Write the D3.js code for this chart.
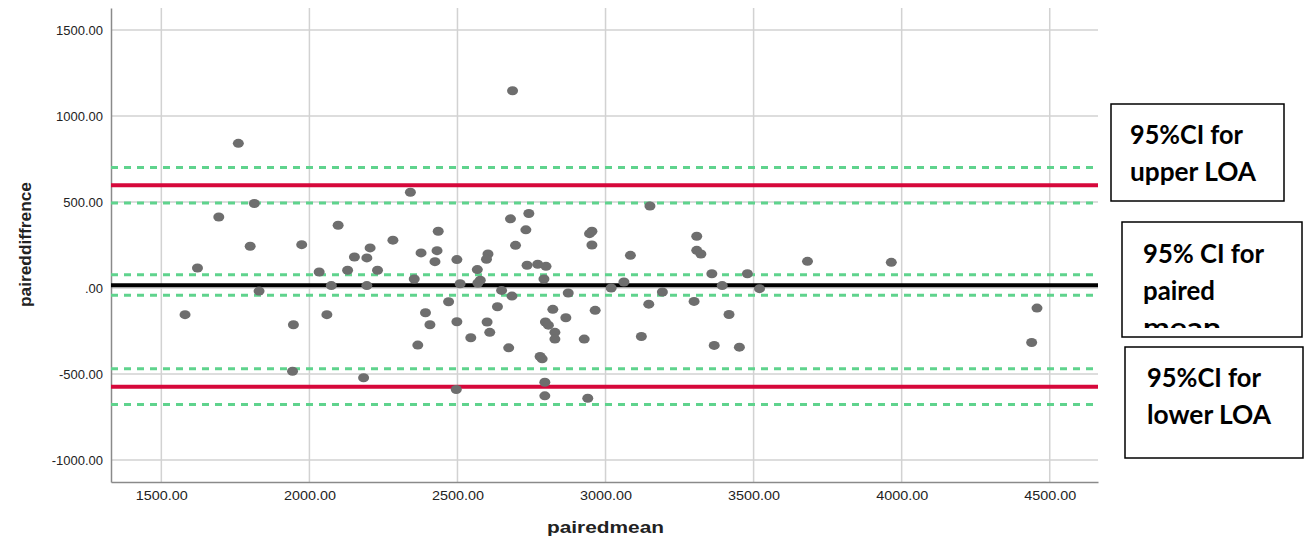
<!DOCTYPE html>
<html lang="en">
<head>
<meta charset="UTF-8">
<title>Bland-Altman plot</title>
<script src="https://d3js.org/d3.v7.min.js"></script>
<style>
  body { margin: 0; background: #fff; }
  svg { display: block; }
</style>
</head>
<body>
<svg id="chart" width="1304" height="540"></svg>
<script>
// paired mean (x) and paired difference (y), one entry per subject
const pairedMean = [
  1760, 1814, 1694, 1800, 1974, 1622, 1830, 1580, 1946, 1943,
  2097, 2033, 2074, 2059, 2129, 2152, 2194, 2205, 2194, 2230,
  2183, 2282, 2341, 2354, 2377, 2435, 2431, 2424, 2392, 2407,
  2366, 2470, 2686, 2498, 2509, 2498, 2545, 2496, 2679, 2741,
  2731, 2696, 2603, 2598, 2567, 2577, 2569, 2649, 2684, 2635,
  2600, 2609, 2673, 2735, 2771, 2799, 2792, 2822, 2797, 2807,
  2829, 2829, 2779, 2786, 2795, 2795, 2874, 2866, 2928, 2940,
  2965, 2946, 2954, 2954, 3019, 3062, 3084, 3150, 3146, 3121,
  3192, 3308, 3308, 3322, 3299, 3359, 3394, 3417, 3367, 3452,
  3479, 3520, 3682, 3965, 4457, 4439
];
const pairedDiff = [
  841, 491, 413, 243, 252, 116, -18, -155, -214, -484,
  365, 93, 14, -155, 103, 180, 175, 233, 14, 103,
  -522, 278, 557, 52, 204, 330, 217, 153, -144, -214,
  -332, -80, 1147, 165, 25, -196, -289, -590, 402, 433,
  338, 248, 198, 167, 107, 45, 29, -14, -47, -109,
  -198, -258, -348, 132, 138, 126, 52, -124, -198, -216,
  -258, -297, -398, -412, -548, -627, -29, -173, -297, -641,
  -130, 316, 330, 250, 0, 35, 190, 477, -94, -282,
  -23, 301, 219, 198, -78, 83, 14, -154, -334, -344,
  83, -4, 155, 149, -117, -317
];

const xTicks = [1500, 2000, 2500, 3000, 3500, 4000, 4500];
const yTicks = [-1000, -500, 0, 500, 1000, 1500];

// reference lines
const meanDiff = 16;
const meanCI = [77, -42];
const upperLOA = 597;
const upperCI = [701, 494];
const lowerLOA = -574;
const lowerCI = [-469, -678];

const boxLabels = [
  ['95%CI for', 'upper LOA'],
  ['95% CI for', 'paired', 'mean'],
  ['95%CI for', 'lower LOA']
];

const svg = d3.select('#chart');
const plot = { left: 111, right: 1098, top: 8, bottom: 482 };

const x = d3.scaleLinear().domain([1330, 4663]).range([plot.left, plot.right]);
const y = d3.scaleLinear().domain([-1128, 1628]).range([plot.bottom, plot.top]);

const fmt = d => d === 0 ? '.00' : d.toFixed(2);
const sans = '"Liberation Sans", Arial, sans-serif';

// grid
svg.append('g')
  .selectAll('line')
  .data(xTicks)
  .join('line')
  .attr('x1', d => x(d)).attr('x2', d => x(d))
  .attr('y1', plot.top).attr('y2', plot.bottom)
  .attr('stroke', '#d2d2d2').attr('stroke-width', 1.5);

svg.append('g')
  .selectAll('line')
  .data(yTicks)
  .join('line')
  .attr('x1', plot.left).attr('x2', plot.right)
  .attr('y1', d => y(d)).attr('y2', d => y(d))
  .attr('stroke', '#d2d2d2').attr('stroke-width', 1.5);

// axes
const xAxis = svg.append('g')
  .attr('transform', `translate(0,${plot.bottom})`)
  .call(d3.axisBottom(x).tickValues(xTicks).tickFormat(fmt).tickSize(0).tickPadding(9));
const yAxis = svg.append('g')
  .attr('transform', `translate(${plot.left},0)`)
  .call(d3.axisLeft(y).tickValues(yTicks).tickFormat(fmt).tickSize(0).tickPadding(8));

[xAxis, yAxis].forEach(a => {
  a.select('.domain').attr('stroke', '#8a8a8a').attr('stroke-width', 1.5);
  a.selectAll('text')
    .attr('font-family', sans)
    .attr('font-size', 13)
    .attr('fill', '#222');
});
// x tick labels are a little wider in the original
xAxis.selectAll('text')
  .attr('textLength', 52)
  .attr('lengthAdjust', 'spacingAndGlyphs');

// reference lines
const refLines = [
  { v: upperCI[0], color: '#5fd38d', w: 3, dash: '7,6' },
  { v: upperCI[1], color: '#5fd38d', w: 3, dash: '7,6' },
  { v: meanCI[0], color: '#5fd38d', w: 3, dash: '7,6' },
  { v: meanCI[1], color: '#5fd38d', w: 3, dash: '7,6' },
  { v: lowerCI[0], color: '#5fd38d', w: 3, dash: '7,6' },
  { v: lowerCI[1], color: '#5fd38d', w: 3, dash: '7,6' },
  { v: upperLOA, color: '#d6083b', w: 4, dash: null },
  { v: lowerLOA, color: '#d6083b', w: 4, dash: null },
  { v: meanDiff, color: '#000', w: 4, dash: null }
];

svg.append('g')
  .selectAll('line')
  .data(refLines)
  .join('line')
  .attr('x1', plot.left).attr('x2', plot.right)
  .attr('y1', d => y(d.v)).attr('y2', d => y(d.v))
  .attr('stroke', d => d.color)
  .attr('stroke-width', d => d.w)
  .attr('stroke-dasharray', d => d.dash);

// points
svg.append('g')
  .selectAll('ellipse')
  .data(pairedMean.map((m, i) => [m, pairedDiff[i]]))
  .join('ellipse')
  .attr('cx', d => x(d[0]))
  .attr('cy', d => y(d[1]))
  .attr('rx', 5.5).attr('ry', 4.5)
  .attr('fill', '#6e6e6e');

// axis titles
svg.append('text')
  .attr('x', 547)
  .attr('y', 533)
  .attr('font-family', sans)
  .attr('font-weight', 'bold')
  .attr('font-size', 16)
  .attr('fill', '#222')
  .attr('textLength', 117)
  .attr('lengthAdjust', 'spacingAndGlyphs')
  .text('pairedmean');

svg.append('text')
  .attr('transform', 'translate(31,307) rotate(-90)')
  .attr('font-family', sans)
  .attr('font-weight', 'bold')
  .attr('font-size', 16)
  .attr('fill', '#222')
  .attr('textLength', 125)
  .attr('lengthAdjust', 'spacingAndGlyphs')
  .text('paireddiffrence');

// annotation boxes
const boxes = [
  { x: 1111, y: 104, w: 173, h: 97, tx: 1130, base: 144, lens: [113, 126], clip: null },
  { x: 1122, y: 222, w: 180, h: 115, tx: 1143, base: 263, lens: [121, 72, 78], clip: 328 },
  { x: 1125, y: 347, w: 178, h: 111, tx: 1147, base: 387, lens: [114, 124], clip: null }
];

const defs = svg.append('defs');
boxes.forEach((b, i) => {
  const g = svg.append('g');
  g.append('rect')
    .attr('x', b.x).attr('y', b.y).attr('width', b.w).attr('height', b.h)
    .attr('fill', '#fff').attr('stroke', '#000').attr('stroke-width', 1.5);
  const tg = g.append('g');
  if (b.clip) {
    defs.append('clipPath').attr('id', 'clip' + i)
      .append('rect').attr('x', b.x).attr('y', b.y).attr('width', b.w).attr('height', b.clip - b.y);
    tg.attr('clip-path', `url(#clip${i})`);
  }
  tg.selectAll('text')
    .data(boxLabels[i])
    .join('text')
    .attr('x', b.tx)
    .attr('y', (d, j) => b.base + j * 37)
    .attr('font-family', 'Lato, "Open Sans", sans-serif')
    .attr('font-weight', 'bold')
    .attr('font-size', 27)
    .attr('fill', '#000')
    .attr('textLength', (d, j) => b.lens[j])
    .attr('lengthAdjust', 'spacingAndGlyphs')
    .text(d => d);
});
</script>
</body>
</html>
